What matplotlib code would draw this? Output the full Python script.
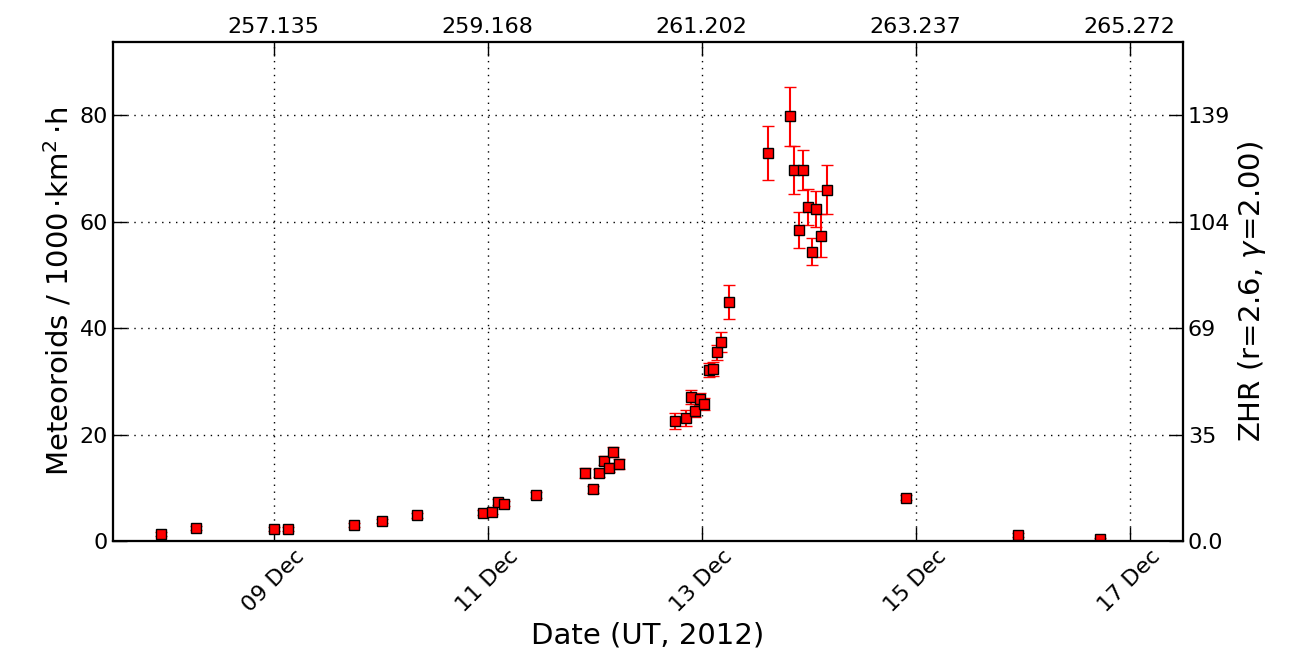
import datetime as dt

import numpy as np
import matplotlib as mpl
mpl.use('Agg')
import matplotlib.pyplot as plt
import matplotlib.dates as mdates

mpl.rc('font', family='DejaVu Sans', size=16)
mpl.rc('figure', facecolor='w')

##### DATA #####

# interval centres, day of December 2012 (UT)
decDay = [7.945, 8.272, 9.000, 9.131, 9.756, 10.018, 10.345, 10.958, 11.042,
          11.094, 11.157, 11.453, 11.913, 11.981, 12.044, 12.091, 12.134,
          12.172, 12.228, 12.756, 12.856, 12.900, 12.940, 12.984, 13.024,
          13.068, 13.106, 13.148, 13.186, 13.255, 13.625, 13.827, 13.867,
          13.908, 13.949, 13.993, 14.033, 14.073, 14.117, 14.173, 14.910,
          15.959, 16.722]

# meteoroid flux (per 1000 km^2 per hour)
flux = [1.3, 2.5, 2.3, 2.2, 2.95, 3.7, 4.8, 5.3, 5.5,
        7.3, 7.0, 8.7, 12.7, 9.7, 12.8, 15.1, 13.8,
        16.7, 14.5, 22.6, 23.1, 27.05, 24.5, 26.7, 25.8,
        32.2, 32.4, 35.5, 37.4, 44.9, 72.9, 79.8, 69.8,
        58.5, 69.7, 62.8, 54.4, 62.4, 57.4, 66.0, 8.15,
        1.07, 0.38]

fluxErr = [0.3, 0.4, 0.4, 0.35, 0.4, 0.4, 0.45, 0.5, 0.5,
           0.55, 0.5, 0.6, 0.95, 0.6, 0.8, 0.9, 0.9,
           0.9, 1.0, 1.5, 1.5, 1.35, 1.2, 1.1, 1.1,
           1.3, 1.3, 1.4, 1.9, 3.2, 5.1, 5.5, 4.5,
           3.4, 3.8, 3.4, 2.6, 3.3, 4.0, 4.6, 0.5,
           0.35, 0.25]

# top axis: solar longitude (J2000) at the bottom axis date ticks
tickDays = [9, 11, 13, 15, 17]
solLonLabels = ["257.135", "259.168", "261.202", "263.237", "265.272"]

# right axis: ZHR equivalent of the flux grid values
fluxTicks = [0, 20, 40, 60, 80]
zhrLabels = ["0.0", "35", "69", "104", "139"]

##### PLOT #####

def dec2num(d):
    return mdates.date2num(dt.datetime(2012, 12, 1) + dt.timedelta(days=d - 1))

tVals = np.array([dec2num(d) for d in decDay])
tTicks = [dec2num(d) for d in tickDays]
xLims = [dec2num(7.5), dec2num(17.5)]
yLims = [0, 93.8]

fig = plt.figure(figsize=(13.04, 6.56), dpi=100)
ax = fig.add_axes([0.0867, 0.1753, 0.8206, 0.7607])

ax.errorbar(tVals, flux, yerr=fluxErr, fmt='s', color='r', ecolor='r',
            mfc='r', mec='k', mew=1.0, ms=6.5, elinewidth=1.5, capsize=4,
            capthick=1.5)

ax.set_xlim(xLims)
ax.set_ylim(yLims)
ax.set_xticks(tTicks)
ax.xaxis.set_major_formatter(mdates.DateFormatter('%d %b'))
ax.set_yticks(fluxTicks)
for lbl in ax.get_xticklabels():
    lbl.set_rotation(45)
    lbl.set_ha('center')
ax.grid(True, color='k', linewidth=1.0, dashes=(1, 4))
ax.set_xlabel('Date (UT, 2012)', fontsize=21)
ax.set_ylabel('Meteoroids / 1000$\\,$\u00b7km$^2$$\\,$\u00b7h', fontsize=21)
ax.tick_params(direction='in', length=10, width=1, top=False, right=False)

# solar longitude on top
axTop = ax.twiny()
axTop.set_xlim(xLims)
axTop.set_xticks(tTicks)
axTop.set_xticklabels(solLonLabels)
axTop.tick_params(direction='in', length=10, width=1)

# ZHR on the right
axR = ax.twinx()
axR.set_ylim(yLims)
axR.set_yticks(fluxTicks)
axR.set_yticklabels(zhrLabels)
axR.set_ylabel(r'ZHR (r=2.6, $\gamma$=2.00)', fontsize=21)
axR.tick_params(direction='in', length=10, width=1)

for a in (ax, axTop, axR):
    for sp in a.spines.values():
        sp.set_linewidth(1.5)

plt.savefig('out.png', dpi=100)
